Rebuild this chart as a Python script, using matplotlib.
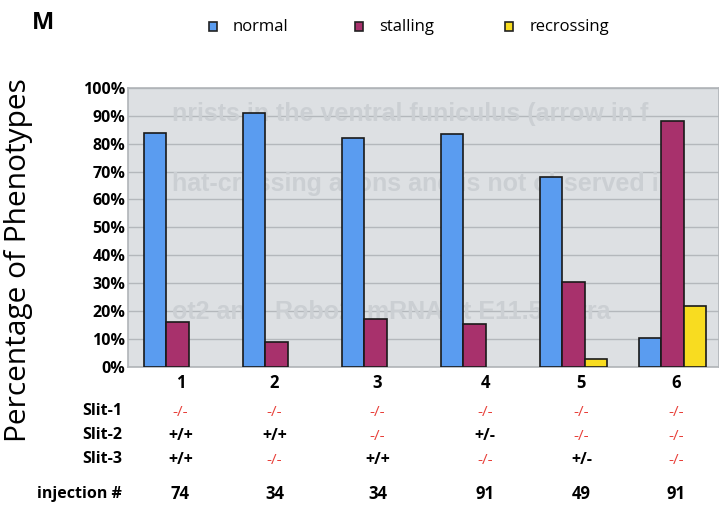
import numpy as np
import matplotlib
matplotlib.use('Agg')
import matplotlib.pyplot as plt
import matplotlib.transforms as mtransforms
from matplotlib.patches import Rectangle

# data
groups = ['1', '2', '3', '4', '5', '6']
normal = [84, 91, 82, 83.5, 68, 10.5]
stalling = [16, 9, 17, 15.5, 30.5, 88]
recrossing = [0, 0, 0, 0, 3, 22]
slit1 = ['-/-', '-/-', '-/-', '-/-', '-/-', '-/-']
slit2 = ['+/+', '+/+', '-/-', '+/-', '-/-', '-/-']
slit3 = ['+/+', '-/-', '+/+', '-/-', '+/-', '-/-']
injections = ['74', '34', '34', '91', '49', '91']

blue = '#5a9cf0'
magenta = '#a8316c'
yellow = '#f8dc20'
red = '#e8403a'

plt.rcParams['font.family'] = ['Open Sans', 'DejaVu Sans']

fig = plt.figure(figsize=(7.19, 5.11), dpi=100)
fig.patch.set_facecolor('white')
ax = fig.add_axes([0.178, 0.282, 0.822, 0.546])
ax.set_facecolor('#dde0e3')

x = np.arange(len(groups))
w = 0.228
for offs, vals, c in [(-w, normal, blue), (0, stalling, magenta), (w, recrossing, yellow)]:
    edges = ['#1a1a1a' if v > 0 else 'none' for v in vals]
    ax.bar(x + offs, vals, w, color=c, edgecolor=edges, linewidth=1.2, zorder=3)

ax.set_xlim(-0.5, 5.47)
ax.set_ylim(0, 100)
ax.set_yticks(range(0, 101, 10))
ax.set_yticklabels([f'{v}%' for v in range(0, 101, 10)], fontsize=11.5, fontweight='bold')
ax.set_xticks([])
ax.tick_params(axis='y', length=0, pad=2)
ax.grid(axis='y', color='#b4b8bc', linewidth=1, zorder=1)
for s in ax.spines.values():
    s.set_color('#b0b4b8')
    s.set_linewidth(1.2)

# faint bleed-through text from the scan
ghost = dict(color='#cbcfd3', fontsize=18, fontweight='bold', zorder=2, clip_on=True,
             transform=ax.transAxes, family='Liberation Sans')
ax.text(0.075, 0.88, 'nrists in the ventral funiculus (arrow in f', **ghost)
ax.text(0.075, 0.63, 'hat-crossing axons and is not observed i', **ghost)
ax.text(0.075, 0.17, 'ot2 and  Robo2  mRNA at E11.5 in tra', **ghost)

fig.text(0.006, 0.492, 'Percentage of Phenotypes', rotation=90, ha='left', va='center',
         fontsize=21.5)

# table under the chart
trans = mtransforms.blended_transform_factory(ax.transData, fig.transFigure)
col_x = [0.03, 0.98, 2.02, 3.11, 4.08, 5.04]
rows_y = [0.25, 0.193, 0.146, 0.099, 0.033]
for i, g in enumerate(groups):
    ax.text(col_x[i], rows_y[0], g, transform=trans, ha='center', va='center',
            fontsize=12, fontweight='bold')
    for vals, yy in zip([slit1, slit2, slit3], rows_y[1:4]):
        v = vals[i]
        if v == '-/-':
            ax.text(col_x[i], yy, v, transform=trans, ha='center', va='center',
                    fontsize=11, color=red)
        else:
            ax.text(col_x[i], yy, v, transform=trans, ha='center', va='center',
                    fontsize=11.5, fontweight='bold', color='black')
    ax.text(col_x[i], rows_y[4], injections[i], transform=trans, ha='center', va='center',
            fontsize=12, fontweight='bold')

for lab, yy in zip(['Slit-1', 'Slit-2', 'Slit-3'], rows_y[1:4]):
    fig.text(0.170, yy + 0.003, lab, ha='right', va='center', fontsize=11.5, fontweight='bold')
fig.text(0.170, rows_y[4], 'injection #', ha='right', va='center', fontsize=11.5, fontweight='bold')

# panel letter and legend
fig.text(0.045, 0.955, 'M', ha='left', va='center', fontsize=17, fontweight='bold')
leg_items = [('normal', blue, 0.291), ('stalling', magenta, 0.494), ('recrossing', yellow, 0.703)]
for name, c, lx in leg_items:
    fig.patches.append(Rectangle((lx, 0.940), 0.011, 0.016, transform=fig.transFigure,
                                 facecolor=c, edgecolor='#222222', linewidth=1.2))
    fig.text(lx + 0.033, 0.948, name, ha='left', va='center', fontsize=12)

fig.savefig('out.png', dpi=100, facecolor='white')
